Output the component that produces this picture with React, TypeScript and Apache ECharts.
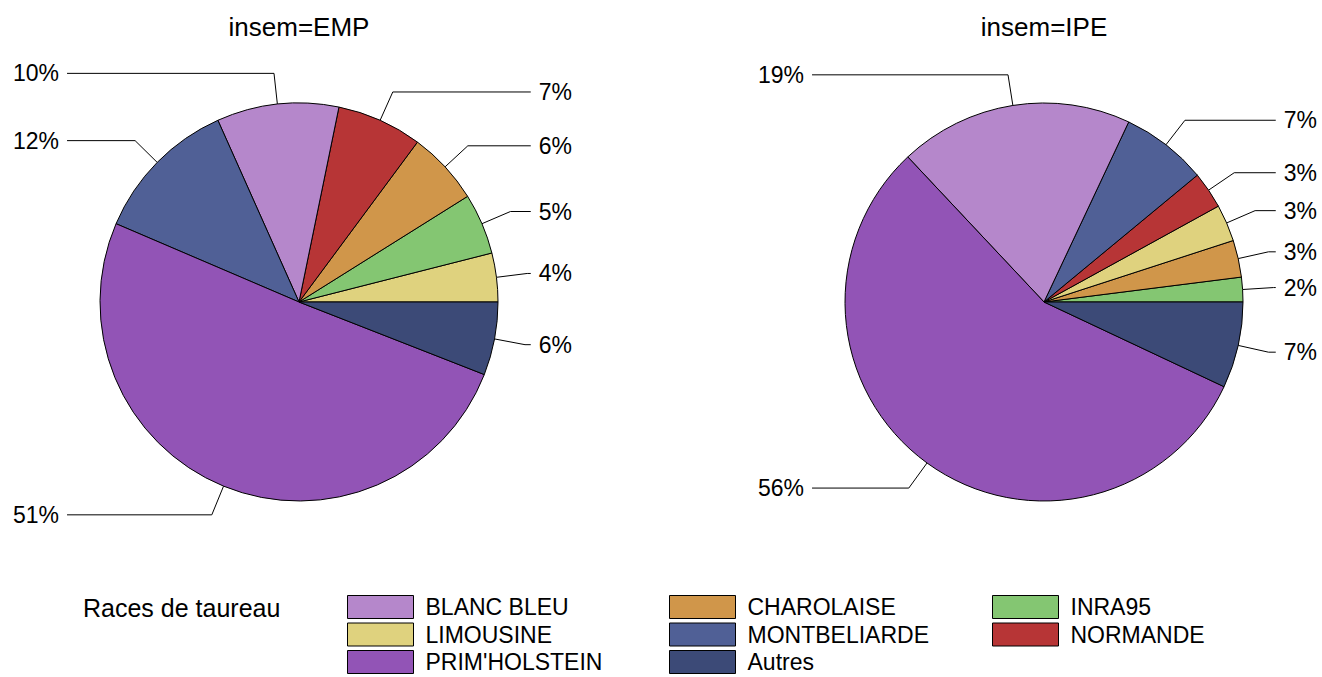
import React, { useEffect, useRef } from "react";
import * as echarts from "echarts";

const races = ["BLANC BLEU", "CHAROLAISE", "INRA95", "LIMOUSINE", "MONTBELIARDE", "NORMANDE", "PRIM'HOLSTEIN", "Autres"];
const raceColors = ["#b587cb", "#d0964a", "#84c672", "#dfd27e", "#506096", "#b73536", "#9254b6", "#3c4a77"];
const empValues = [10, 6, 5, 4, 12, 7, 51, 6];
const ipeValues = [19, 3, 2, 3, 7, 3, 56, 7];
const panelTitles = ["insem=EMP", "insem=IPE"];
const legendTitle = "Races de taureau";
const legendColumns = [
  ["BLANC BLEU", "LIMOUSINE", "PRIM'HOLSTEIN"],
  ["CHAROLAISE", "MONTBELIARDE", "Autres"],
  ["INRA95", "NORMANDE"],
];

const FONT = "'Liberation Sans', Arial, Helvetica, sans-serif";

function buildData(values: number[]) {
  const items = races.map((name, i) => ({ name, value: values[i], color: raceColors[i], idx: i }));
  const main = items.filter((d) => d.name !== "Autres").sort((a, b) => a.value - b.value || a.idx - b.idx);
  const rest = items.filter((d) => d.name === "Autres");
  return [...main, ...rest].map((d) => ({ name: d.name, value: d.value, itemStyle: { color: d.color } }));
}

export default function App() {
  const ref = useRef<HTMLDivElement>(null);
  useEffect(() => {
    if (!ref.current) return;
    const chart = echarts.init(ref.current, undefined, { renderer: "svg" });
    const pieBase = (values: number[], left: number) => ({
      type: "pie",
      left,
      top: 0,
      width: 585,
      height: 604,
      center: [299, 302],
      radius: 199,
      startAngle: 0,
      clockwise: false,
      data: buildData(values),
      itemStyle: { borderColor: "#000", borderWidth: 1 },
      emphasis: { disabled: true },
      label: {
        show: true,
        position: "outside",
        alignTo: "edge",
        edgeDistance: 13,
        distanceToLabelLine: 8,
        formatter: "{c}%",
        color: "#000",
        fontSize: 23,
        fontFamily: FONT,
      },
      labelLine: {
        show: true,
        length: 31,
        length2: 0,
        smooth: false,
        lineStyle: { color: "#000", width: 1 },
      },
    });
    chart.setOption({
      animation: false,
      backgroundColor: "#fff",
      title: [
        { text: panelTitles[0], left: 299, top: 14, textAlign: "center", padding: 0, textStyle: { fontSize: 26, fontWeight: "normal", color: "#000", fontFamily: FONT } },
        { text: panelTitles[1], left: 1044, top: 14, textAlign: "center", padding: 0, textStyle: { fontSize: 26, fontWeight: "normal", color: "#000", fontFamily: FONT } },
        { text: legendTitle, left: 83, top: 595, padding: 0, textStyle: { fontSize: 25, fontWeight: "normal", color: "#000", fontFamily: FONT } },
      ],
      legend: legendColumns.map((col, i) => ({
        data: col,
        orient: "vertical",
        left: [347, 669, 992][i],
        top: 595,
        height: 120,
        padding: 0,
        itemWidth: 66,
        itemHeight: 23,
        itemGap: 3.5,
        icon: "rect",
        selectedMode: false,
        itemStyle: { borderColor: "#000", borderWidth: 1 },
        textStyle: { fontSize: 23, lineHeight: 23, color: "#000", fontFamily: FONT, padding: [0, 0, 0, 7] },
      })),
      series: [pieBase(empValues, 0), pieBase(ipeValues, 745)],
    });
    return () => chart.dispose();
  }, []);
  return <div ref={ref} style={{ position: "absolute", left: 0, top: 0, width: 1322, height: 677 }} />;
}
